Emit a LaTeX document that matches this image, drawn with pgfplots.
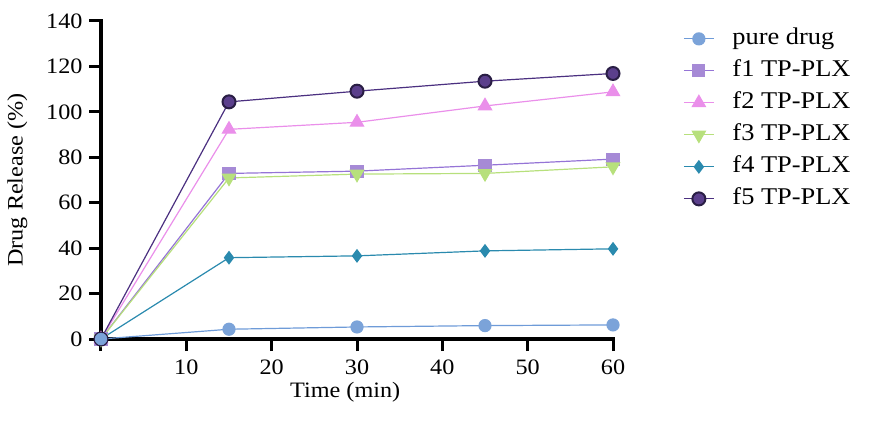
\documentclass[border=0pt]{standalone}
\usepackage{fontspec}
\setmainfont{Liberation Serif}[FakeStretch=1.1]
\usepackage{pgfplots}
\pgfplotsset{compat=1.18}
\definecolor{cpure}{HTML}{7BA3D9}
\definecolor{cpureL}{HTML}{6E9BD8}
\definecolor{cfa}{HTML}{A68AD6}
\definecolor{cfaL}{HTML}{9574D6}
\definecolor{cfb}{HTML}{EA8FEA}
\definecolor{cfc}{HTML}{B7E07C}
\definecolor{cfd}{HTML}{2A8AAE}
\definecolor{cfe}{HTML}{5B3F8C}
\definecolor{cfeE}{HTML}{2A1E45}
\definecolor{cfeL}{HTML}{4B3080}
\begin{document}
\begin{tikzpicture}
\begin{axis}[
  scale only axis,
  width=512pt, height=318pt,
  xmin=0, xmax=60, ymin=0, ymax=140,
  axis x line=bottom, axis y line=left,
  axis line style={-, line width=3.8pt, line cap=rect},
  xtick={0,10,20,30,40,50,60},
  xticklabels={,10,20,30,40,50,60},
  ytick={0,20,...,140},
  tick style={line width=3pt, black},
  major tick length=12pt,
  tick align=outside,
  /pgf/number format/assume math mode=true,
  ticklabel style={font=\fontsize{22pt}{26pt}\selectfont},
  xticklabel style={yshift=-5pt},
  yticklabel style={xshift=-3pt},
  label style={font=\fontsize{22pt}{26pt}\selectfont},
  xlabel={Time (min)},
  ylabel={Drug Release (\%)},
  xlabel style={at={(axis description cs:0.477,0)}, anchor=north, yshift=-40pt},
  ylabel style={yshift=12pt},
  clip=false,
  legend style={at={(1.131,0.99)}, anchor=north west, draw=none, fill=none,
    font=\fontsize{24pt}{28pt}\selectfont,
    nodes={text height=16pt, text depth=5pt, inner sep=2pt},
    row sep=7pt, column sep=16pt},
  legend cell align=left,
  legend image code/.code={\draw[#1, mark repeat=2, mark phase=2] plot coordinates {(0pt,0pt)(15pt,0pt)(30pt,0pt)};},
]
\addplot[color=cpureL, line width=1.2pt, mark=*, mark size=6pt, mark options={fill=cpure, draw=cpure}]
  coordinates {(0,0)(15,4.3)(30,5.3)(45,5.9)(60,6.2)};
\addlegendentry{pure drug}
\addplot[color=cfaL, line width=1.2pt, mark=square*, mark size=6pt, mark options={fill=cfa, draw=cfa}]
  coordinates {(0,0)(15,72.9)(30,73.9)(45,76.5)(60,79.2)};
\addlegendentry{f1 TP-PLX}
\addplot[color=cfb, line width=1.2pt, mark=triangle*, mark size=7.5pt, mark options={fill=cfb, draw=cfb}]
  coordinates {(0,0)(15,92.3)(30,95.4)(45,102.6)(60,108.8)};
\addlegendentry{f2 TP-PLX}
\addplot[color=cfc, line width=1.2pt, mark=triangle*, mark size=7.5pt, mark options={fill=cfc, draw=cfc, rotate=180}]
  coordinates {(0,0)(15,70.9)(30,72.6)(45,72.9)(60,75.8)};
\addlegendentry{f3 TP-PLX}
\addplot[color=cfd, line width=1.2pt, mark=diamond*, mark size=6pt, mark options={fill=cfd, draw=cfd}]
  coordinates {(0,0)(15,35.8)(30,36.6)(45,38.8)(60,39.7)};
\addlegendentry{f4 TP-PLX}
\addplot[color=cfeL, line width=1.2pt, mark=*, mark size=6.5pt, mark options={fill=cfe, draw=cfeE, line width=2pt}]
  coordinates {(0,0)(15,104.4)(30,109.1)(45,113.5)(60,116.9)};
\addlegendentry{f5 TP-PLX}
\addplot[forget plot, color=cpureL, only marks, mark=*, mark size=6pt, mark options={fill=cpure, draw=cpure}]
  coordinates {(0,0)};
\end{axis}
\pgfresetboundingbox
\path[use as bounding box] (-101pt,-87pt) rectangle (773pt,339pt);
\end{tikzpicture}
\end{document}
